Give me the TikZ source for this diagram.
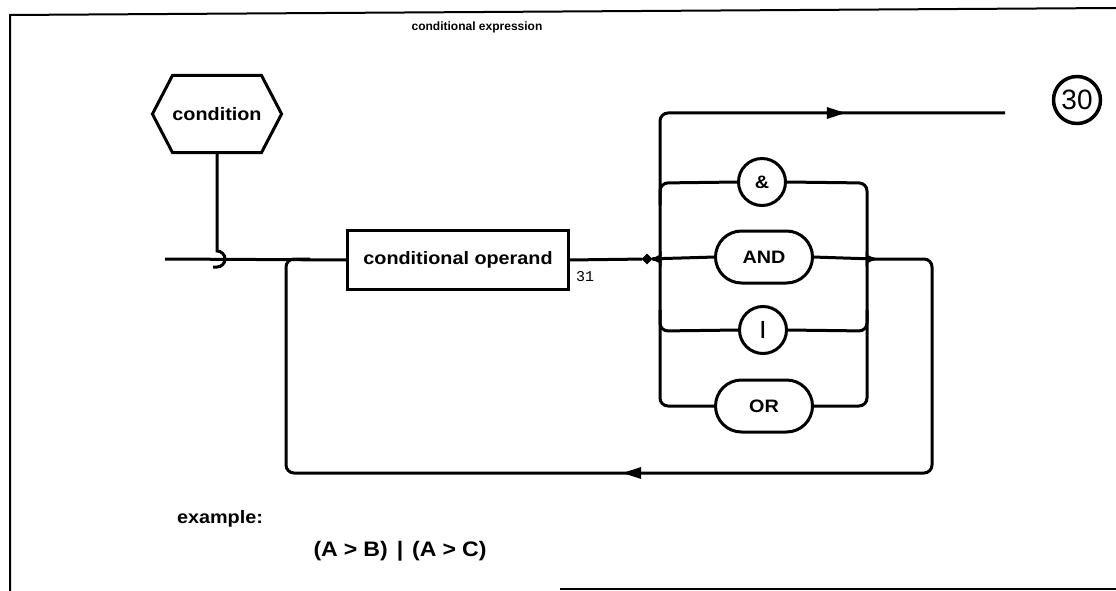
\documentclass[tikz,border=0pt]{standalone}
\usepackage{fontspec}
\setmainfont{Liberation Sans}[FakeStretch=1.1]
\newfontfamily\plainsans{Liberation Sans}
\setmonofont{Liberation Mono}
\usetikzlibrary{shapes.misc,shapes.symbols,shapes.geometric,arrows.meta,decorations.markings}
\tikzset{flowtip/.tip={Triangle[length=19pt,width=11pt]}}
\begin{document}
\begin{tikzpicture}[x=1pt,y=-1pt,
  line width=3pt,
  every node/.style={inner sep=0pt, outer sep=0pt},
  lbl/.style={font=\fontsize{18}{21}\selectfont\bfseries},
  hexnode/.style={lbl, draw, signal, signal to=west and east, signal pointer angle=125, minimum width=123pt, minimum height=77pt},
  opbox/.style={lbl, draw, rectangle, minimum width=221pt, minimum height=59pt},
  circ/.style={lbl, draw, circle, minimum size=47pt},
  stad/.style={lbl, draw, rounded rectangle, minimum width=97pt, minimum height=52pt},
  junction/.style={draw, fill, diamond, minimum size=10pt, line width=0.5pt},
  track/.style={rounded corners=8pt},
  frame/.style={line width=2pt}
]
\useasboundingbox (0,0) rectangle (1116,591);
% frame
\coordinate (f1) at (10,591);
\coordinate (f2) at (10,15);
\coordinate (f3) at (1116,8);
\coordinate (f4) at (560,589);
\coordinate (f5) at (1116,589);
\draw[frame] (f1) -- (f2) -- (f3);
\draw[frame] (f4) -- (f5);

% texts
\node[font=\plainsans\fontsize{12}{14}\selectfont\bfseries] (title) at (477,27) {conditional expression};
\node[lbl] (ex) at (220,519) {example:};
\node[font=\fontsize{21}{24}\selectfont\bfseries] (formula) at (400,551)
  {(A\hspace{6pt}>\hspace{6pt}B)\hspace{9pt}|\hspace{9pt}(A\hspace{6pt}>\hspace{6pt}C)};

% nodes
\node[hexnode] (cond) at (217,114) {condition};
\node[opbox] (op) at (458,260) {conditional operand};
\node[font=\ttfamily\fontsize{15}{15}\selectfont] (sub) at (585,277) {31};
\node[junction] (dot) at (647,259) {};
\node[circ] (amp) at (762,182) {\&};
\node[stad] (and) at (764,257) {AND};
\node[circ] (bar) at (763,330) {|};
\node[stad] (or) at (764,406) {OR};
\node[circle, draw, line width=3.5pt, minimum size=47pt, font=\plainsans\fontsize{28}{28}\selectfont] (n30) at (1077,100) {30};

% coordinates
\coordinate (start) at (165,259);
\coordinate (hk) at (217,251);
\coordinate (lc) at (653,259);
\coordinate (rc) at (874,259);
\coordinate (topend) at (1005,113);
\coordinate (loopin) at (310,259);

% entry and hook
\draw (start) -- (op.west);
\draw (cond.south) -- (hk) arc[start angle=90, end angle=-90, radius=8pt] -- ++(-4,0);
\draw (op.east) -- (dot);
\draw (dot) -- (and.west);

% top branch with arrow
\draw[track, postaction={decorate}, decoration={markings, mark=at position 336pt with {\arrow{flowtip}}}]
  (lc) to[out=0,in=-90] (660,250) -- (660,113) -- (topend);
% & branch
\draw[track] (660,205) -- (660,183) -- (amp.west);
\draw[track] (amp.east) -- (867,183) -- (867,250) to[out=-90,in=180] (rc);
% AND
\draw (and.east) -- (rc);
% | branch
\draw[track] (660,310) -- (660,331) -- (bar.west);
\draw[track] (bar.east) -- (867,331) -- (867,310);
% OR
\draw[track] (lc) to[out=0,in=90] (660,268) -- (660,406) -- (or.west);
\draw[track] (rc) to[out=180,in=90] (867,268) -- (867,406) -- (or.east);

% loop back
\draw[track, postaction={decorate}, decoration={markings, mark=at position 575pt with {\arrow{flowtip}}}]
  (rc) -- (932,259) -- (932,473) -- (286,473) -- (286,259) -- (loopin);
\end{tikzpicture}
\end{document}
